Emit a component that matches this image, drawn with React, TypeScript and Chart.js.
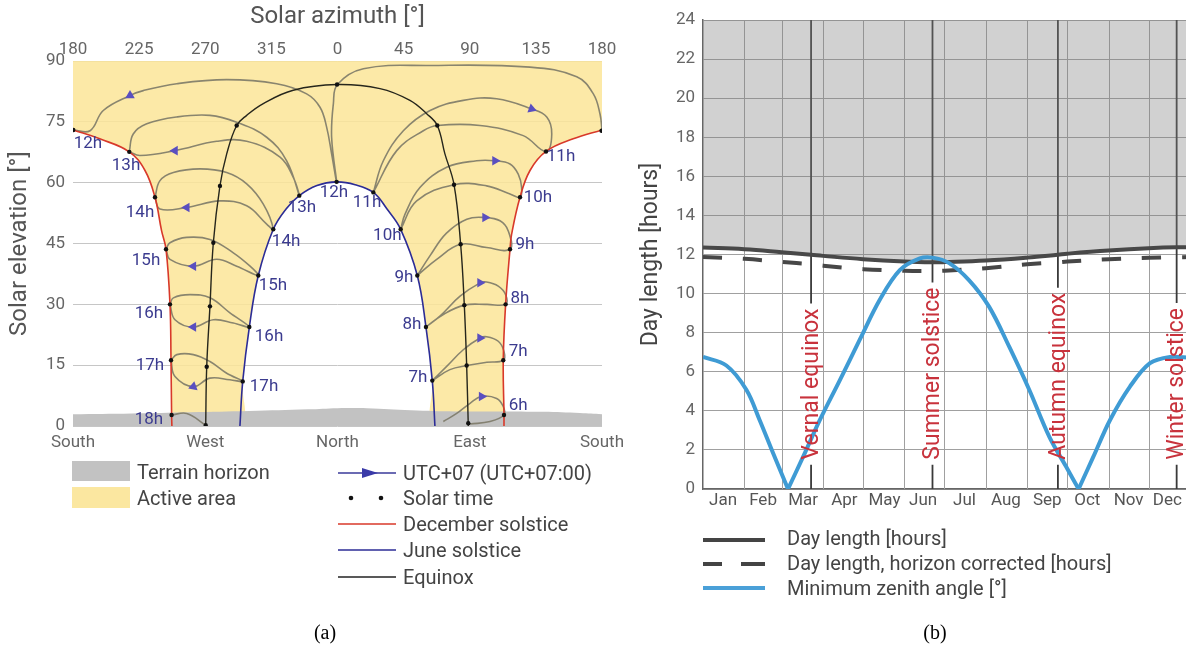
import React, { useEffect, useRef } from "react";
import { Chart, registerables } from "chart.js";

Chart.register(...registerables);
Chart.defaults.font.family = "Roboto";

type P = [number, number];

/* ================= Panel (a): sun path =================
   x value = azimuth measured from South: 0 = 180°, 90 = 270° (West),
   180 = 0° (North), 270 = 90° (East), 360 = 180° (South) */
const compassNames = ["South", "West", "North", "East", "South"];

const terrainHorizon: P[] = [[0, 2.9], [40, 3.1], [80, 3.4], [120, 3.7], [160, 4.1], [180, 4.4], [200, 4.4], [230, 3.9], [260, 3.6], [290, 3.6], [320, 3.5], [345, 3.2], [360, 2.9]];

const decemberWest: P[] = [[0, 73], [18.2, 70.8], [38.3, 67.6], [49, 63], [55.8, 56.4], [60.3, 48.1], [63.3, 43.6], [66, 30], [66.7, 16.2], [67.1, 2.7], [67.3, 0]];
const decemberEast: P[] = [[293.3, 0], [293.3, 2.7], [292.8, 16.2], [294.4, 30], [297.4, 43.6], [298.5, 47.3], [304.2, 56.4], [311, 63], [321.9, 67.7], [340.4, 70.8], [360, 73]];
const juneSolstice: P[] = [[113.6, 0], [115.5, 11], [120, 24.4], [126.1, 37.1], [136.3, 48.5], [145, 53.5], [154, 56.8], [166, 59.3], [179.4, 60.2], [192, 59.5], [204.4, 57.6], [213.7, 53.5], [223, 48.5], [234.3, 37.1], [240.2, 24.4], [244.5, 11.2], [246.3, 0]];
const equinoxPath: P[] = [[90.3, 0], [91, 14.6], [93.2, 29.5], [95.5, 45.2], [100, 59.2], [104.6, 67.1], [111.4, 74.1], [118.2, 76.6], [129.5, 79.5], [149.9, 82.8], [179.7, 84.2], [208.9, 83.2], [229.3, 80.3], [240.7, 77], [247.9, 74.1], [253.1, 67.1], [259.3, 59.5], [263.8, 44.8], [266.3, 29.8], [267.9, 14.9], [269, 0]];

const analemma6h: P[] = [[252, 1.1], [261.1, 3.1], [270.2, 5.6], [278.1, 7.3], [288.3, 6.8], [292.8, 4.8], [293.3, 2.7], [283.8, 1.1], [270.2, 0.5]];
const analemma7h: P[] = [[244.5, 11.2], [256.5, 13.9], [267.9, 14.9], [281.5, 15.7], [292.8, 16.2], [293.3, 18.4], [289.4, 20.9], [281.5, 22.0], [277.0, 21.7], [265.6, 18.8], [254.3, 14.7], [244.5, 11.2]];
const analemma8h: P[] = [[240.2, 24.4], [252.0, 27.5], [266.3, 29.8], [281.5, 30.0], [294.4, 30.0], [294.4, 32.4], [289.4, 34.5], [281.5, 35.5], [277.0, 35.3], [263.4, 32.0], [249.7, 27.1], [240.2, 24.4]];
const analemma9h: P[] = [[234.3, 37.1], [247.5, 41.1], [263.8, 44.8], [281.5, 44.0], [297.4, 43.6], [296.2, 48.1], [290.6, 50.6], [280.4, 51.4], [268, 51], [254, 47.5], [243, 42], [234.3, 37.1]];
const analemma10h: P[] = [[223.0, 48.5], [233.9, 55.5], [259.3, 59.5], [281.5, 59.2], [297.4, 57.2], [304.2, 56.4], [305.3, 58.8], [303.0, 62.1], [297.4, 64.6], [287.2, 65.4], [274.7, 65.4], [254.3, 63.8], [236.1, 58.8], [225.9, 52.2], [223.0, 48.5]];
const analemma11h: P[] = [[204.4, 57.6], [220.3, 67.9], [238.4, 72.8], [247.9, 74.1], [277.0, 74.1], [306.4, 71.6], [321.9, 67.7], [325.8, 72.0], [322.4, 76.2], [312.1, 78.2], [288.3, 80.7], [265.6, 80.3], [243.0, 77.8], [224.8, 72.8], [211.2, 65.4], [204.4, 57.6]];
const analemma12h: P[] = [[0, 73], [11.6, 72.8], [20.6, 77.8], [38.8, 81.5], [47.8, 82.7], [70.6, 84.4], [104.6, 85.4], [138.6, 84.4], [159.0, 81.9], [168.1, 78.6], [172.6, 73.7], [176.0, 67.1], [179.4, 60.2], [176, 71.2], [177.2, 79.5], [179.9, 84.2], [197.6, 88.1], [243, 88.9], [311, 88.5], [342.8, 86.1], [354.1, 81.9], [358.6, 77.0], [360, 73]];
const analemma13h: P[] = [[38.3, 67.6], [41.0, 72.0], [50.2, 74.5], [70.6, 76.2], [93.2, 76.6], [111.4, 74.9], [131.8, 71.2], [145.4, 65.4], [154, 56.8], [149.9, 61.3], [140.9, 66.3], [118.2, 70.2], [97.8, 70.2], [69.4, 67.9], [45.6, 66.7], [38.3, 67.6]];
const analemma14h: P[] = [[55.8, 56.4], [59.2, 60.5], [68.3, 62.5], [86.4, 63.4], [104.6, 62.5], [118.2, 59.7], [129.5, 54.7], [136.3, 48.5], [131.8, 49.8], [118.2, 54.3], [100, 55.5], [77.4, 53.9], [59.2, 53.5], [55.8, 56.4]];
const analemma15h: P[] = [[63.3, 43.6], [66, 45.2], [77.4, 46.5], [93.2, 46.0], [109.1, 42.7], [120.5, 39.4], [126.1, 37.1], [111.4, 39.4], [97.8, 41.1], [81.9, 39.4], [66, 41.1], [63.3, 43.6]];
const analemma16h: P[] = [[66, 30], [68.3, 31.6], [79.6, 32.4], [93.2, 31.6], [106.8, 27.9], [120, 24.4], [109.1, 25.4], [95.5, 26.2], [81.9, 24.4], [69.4, 26.2], [66, 30]];
const analemma17h: P[] = [[66.7, 16.2], [70.6, 17.6], [81.9, 17.6], [93.2, 15.9], [104.6, 13.0], [115.5, 11.0], [106.8, 11.4], [93.2, 11.8], [81.9, 9.7], [69.4, 12.2], [66.7, 16.2]];
const analemma18h: P[] = [[67.1, 2.7], [77.4, 3.1], [90.3, 0.2]];

const solarTimeDots: P[] = [
  [0.2, 73], [38.3, 67.6], [55.8, 56.4], [63.3, 43.6], [66, 30], [66.7, 16.2], [67.1, 2.7],
  [359.7, 72.8], [321.9, 67.7], [304.2, 56.4], [297.4, 43.6], [294.4, 30], [292.8, 16.2], [293.3, 2.7],
  [179.4, 60.2], [154, 56.8], [136.3, 48.5], [126.1, 37.1], [120, 24.4], [115.5, 11],
  [204.4, 57.6], [223, 48.5], [234.3, 37.1], [240.2, 24.4], [244.5, 11.2],
  [179.7, 84.2], [111.4, 74.1], [100, 59.2], [95.5, 45.2], [93.2, 29.5], [91, 14.6], [90.3, 0.2],
  [247.9, 74.1], [259.3, 59.5], [263.8, 44.8], [266.3, 29.8], [267.9, 14.9], [269, 0.7],
];

const arrowMarks: P[] = [[278.1, 7.3], [277.0, 21.7], [277.0, 35.3], [280.4, 51.4], [287.2, 65.4], [312.1, 78.2], [38.8, 81.5], [69.4, 67.9], [77.4, 53.9], [81.9, 39.4], [81.9, 24.4], [81.9, 9.7]];
const arrowHeading: number[] = [90, 90, 90, 90, 90, 110, 240, 270, 270, 270, 270, 250];

const hourLabels: [string, number, number][] = [
  ["12h", 10.2, 69.6], ["13h", 36.1, 64.1], ["14h", 45.6, 52.5], ["15h", 49.7, 40.8], ["16h", 51.7, 27.7], ["17h", 52.4, 14.9], ["18h", 51.7, 1.5],
  ["11h", 332.1, 66.3], ["10h", 316.4, 56.4], ["9h", 307.6, 44.6], ["8h", 304.2, 31.4], ["7h", 303.0, 18.2], ["6h", 303.0, 5.0],
  ["12h", 177.6, 57.4], ["13h", 155.8, 53.7], ["14h", 145, 45.5], ["15h", 136.1, 34.7], ["16h", 133.4, 22.1], ["17h", 130.0, 9.7],
  ["11h", 200.1, 55], ["10h", 213.9, 46.9], ["9h", 225.2, 36.6], ["8h", 230.7, 25], ["7h", 234.8, 11.9],
];

/* ================= Panel (b): day length ================= */
const monthNames = ["Jan", "Feb", "Mar", "Apr", "May", "Jun", "Jul", "Aug", "Sep", "Oct", "Nov", "Dec"];
const monthStartDay = [31, 59, 90, 120, 151, 181, 212, 243, 273, 304, 334];
const monthMidDay = [15, 45, 75, 106, 136, 165, 196, 227, 258, 288, 319, 348];

const sampleDay = [0, 31, 59, 81, 90, 120, 151, 172, 181, 212, 243, 266, 273, 304, 334, 355, 365];
const dayLengthHours = [12.36, 12.27, 12.12, 11.99, 11.93, 11.76, 11.64, 11.6, 11.61, 11.69, 11.84, 11.99, 12.04, 12.2, 12.32, 12.37, 12.36];
const dayLengthHorizonHours = [11.87, 11.78, 11.62, 11.5, 11.43, 11.25, 11.17, 11.16, 11.17, 11.3, 11.5, 11.6, 11.64, 11.76, 11.83, 11.86, 11.87];

const zenithDay = [0, 17.5, 32.5, 42.5, 52.5, 63.7, 75, 87.5, 102.5, 117.5, 132.5, 147.5, 162.5, 172, 184.5, 199.5, 214.5, 229.5, 244.5, 259.5, 272, 281.5, 292.5, 305, 320, 335, 350, 365];
const zenithDeg = [16.9, 15.8, 12.7, 8.8, 4.6, 0, 4.1, 8.8, 13.9, 19.1, 24.2, 28.0, 29.5, 29.6, 28.9, 26.7, 23.3, 18.2, 12.7, 6.7, 2.9, 0, 4.1, 8.8, 13.1, 16.1, 16.9, 16.8];

const seasonDay = [81, 172, 266, 355];
const seasonLabel = ["Vernal equinox", "Summer solstice", "Autumn equinox", "Winter solstice"];
const seasonLabelStartHour = 1.5;

/* ================= helpers ================= */
const xy = (pts: P[]) => pts.map(([x, y]) => ({ x, y }));

const hourLabelPlugin = {
  id: "hourLabels",
  afterDatasetsDraw(chart: any) {
    const { ctx, scales } = chart;
    ctx.save();
    ctx.font = "17px Roboto";
    ctx.fillStyle = "#3b3b8f";
    ctx.textAlign = "center";
    ctx.textBaseline = "middle";
    hourLabels.forEach(([t, v, e]) => ctx.fillText(t, scales.x.getPixelForValue(v), scales.y.getPixelForValue(e)));
    ctx.restore();
  },
};

const SEASON_FONT = "23px Roboto";
const calendarPlugin = {
  id: "calendar",
  beforeDatasetsDraw(chart: any) {
    const { ctx, chartArea: a, scales } = chart;
    ctx.save();
    ctx.strokeStyle = "#a0a0a0";
    ctx.lineWidth = 1;
    monthStartDay.forEach((d) => {
      const x = Math.round(scales.x.getPixelForValue(d)) + 0.5;
      ctx.beginPath();
      ctx.moveTo(x, a.top);
      ctx.lineTo(x, a.bottom);
      ctx.stroke();
    });
    ctx.font = SEASON_FONT;
    ctx.strokeStyle = "#3a3a3a";
    ctx.lineWidth = 1.8;
    seasonDay.forEach((d, i) => {
      const x = scales.x.getPixelForValue(d);
      const y0 = scales.y.getPixelForValue(seasonLabelStartHour);
      const w = ctx.measureText(seasonLabel[i]).width;
      ctx.beginPath();
      ctx.moveTo(x, a.top);
      ctx.lineTo(x, y0 - w - 5);
      ctx.moveTo(x, y0 + 5);
      ctx.lineTo(x, a.bottom);
      ctx.stroke();
    });
    ctx.restore();
  },
  afterDatasetsDraw(chart: any) {
    const { ctx, scales } = chart;
    ctx.save();
    ctx.font = SEASON_FONT;
    ctx.fillStyle = "#c8323c";
    ctx.textAlign = "left";
    ctx.textBaseline = "middle";
    seasonDay.forEach((d, i) => {
      const x = scales.x.getPixelForValue(d);
      const y0 = scales.y.getPixelForValue(seasonLabelStartHour);
      ctx.save();
      ctx.translate(x, y0);
      ctx.rotate(-Math.PI / 2);
      ctx.fillText(seasonLabel[i], 0, 1);
      ctx.restore();
    });
    ctx.restore();
  },
};

function Txt(props: { x: number; y: number; size?: number; color?: string; family?: string; center?: boolean; children: any }) {
  const size = props.size ?? 20;
  return (
    <div
      style={{
        position: "absolute",
        left: props.x,
        top: props.y - size * 0.6,
        fontSize: size,
        lineHeight: `${size * 1.2}px`,
        color: props.color ?? "#444",
        fontFamily: props.family ?? "Roboto",
        whiteSpace: "nowrap",
        transform: props.center ? "translateX(-50%)" : undefined,
      }}
    >
      {props.children}
    </div>
  );
}

export default function App() {
  const leftRef = useRef<HTMLCanvasElement>(null);
  const rightRef = useRef<HTMLCanvasElement>(null);

  useEffect(() => {
    const analemmas = [analemma6h, analemma7h, analemma8h, analemma9h, analemma10h, analemma11h, analemma12h, analemma13h, analemma14h, analemma15h, analemma16h, analemma17h, analemma18h];
    const line = (pts: P[], color: string, width: number, order: number) => ({
      data: xy(pts), borderColor: color, borderWidth: width, pointRadius: 0, tension: 0.4, fill: false, order,
    });
    const left = new Chart(leftRef.current!, {
      type: "line",
      data: {
        datasets: [
          { data: xy([...decemberWest, ...juneSolstice, ...decemberEast]), borderWidth: 0, borderColor: "rgba(0,0,0,0)", backgroundColor: "rgba(252,229,152,0.86)", fill: "end", pointRadius: 0, tension: 0.4, order: 10 },
          { data: xy(terrainHorizon), borderWidth: 0, borderColor: "rgba(0,0,0,0)", backgroundColor: "#c2c2c2", fill: "origin", pointRadius: 0, tension: 0.4, order: 9 },
          ...analemmas.map((a) => line(a, "rgba(125,122,104,0.9)", 1.6, 8)),
          line(equinoxPath, "#26261c", 1.4, 7),
          line(decemberWest, "#d8392a", 1.6, 6),
          line(decemberEast, "#d8392a", 1.6, 6),
          line(juneSolstice, "#2c2c96", 1.6, 6),
          { data: xy(solarTimeDots), showLine: false, pointRadius: 2.2, pointBackgroundColor: "#111", pointBorderWidth: 0, order: 5 },
          { data: xy(arrowMarks), showLine: false, pointStyle: "triangle", pointRadius: 5.5, pointRotation: arrowHeading, pointBackgroundColor: "#5a4fc0", pointBorderWidth: 0, order: 4 },
        ] as any,
      },
      options: {
        animation: false,
        responsive: false,
        layout: { padding: { left: 0, right: 38, top: 0, bottom: 0 } },
        plugins: { legend: { display: false }, tooltip: { enabled: false } },
        scales: {
          x: {
            type: "linear", position: "bottom", min: 0, max: 360,
            ticks: { stepSize: 90, autoSkip: false, maxRotation: 0, padding: 7, color: "#666", font: { size: 17 }, callback: (_v: any, i: number) => compassNames[i] },
            grid: { display: false, drawTicks: false }, border: { display: false },
            afterFit: (s: any) => { s.height = 34; },
          },
          xTop: {
            type: "linear", position: "top", min: 0, max: 360,
            ticks: { stepSize: 45, autoSkip: false, maxRotation: 0, padding: 1, color: "#666", font: { size: 17 }, callback: (v: any) => String((Number(v) + 180) % 360) },
            grid: { display: false, drawTicks: false }, border: { display: false },
            title: { display: true, text: "Solar azimuth [°]", color: "#555", font: { size: 24 }, padding: { top: 3, bottom: 0 } },
            afterFit: (s: any) => { s.height = 61; },
          },
          y: {
            min: 0, max: 90,
            ticks: { stepSize: 15, padding: 8, color: "#666", font: { size: 17 } },
            grid: { color: "#c6c6c6", drawTicks: false }, border: { display: false },
            title: { display: true, text: "Solar elevation [°]", color: "#555", font: { size: 24 }, padding: { top: 6, bottom: 0 } },
            afterFit: (s: any) => { s.width = 73; },
          },
        } as any,
      },
      plugins: [hourLabelPlugin],
    });

    const zenithSegments: { x: number; y: number }[][] = [];
    let cur: { x: number; y: number }[] = [];
    zenithDay.forEach((d, i) => {
      const p = { x: d, y: zenithDeg[i] };
      cur.push(p);
      if (zenithDeg[i] === 0 && i > 0 && i < zenithDay.length - 1) {
        zenithSegments.push(cur);
        cur = [p];
      }
    });
    zenithSegments.push(cur);

    const right = new Chart(rightRef.current!, {
      type: "line",
      data: {
        datasets: [
          { data: sampleDay.map((d, i) => ({ x: d, y: dayLengthHours[i] })), borderColor: "#484848", borderWidth: 4, pointRadius: 0, tension: 0.4, fill: "end", backgroundColor: "rgba(128,128,128,0.36)", order: 3 },
          { data: sampleDay.map((d, i) => ({ x: d, y: dayLengthHorizonHours[i] })), borderColor: "#474747", borderWidth: 4, borderDash: [19, 21], pointRadius: 0, tension: 0.4, fill: false, order: 2 },
          ...zenithSegments.map((seg) => ({ data: seg, yAxisID: "y2", borderColor: "#3f9bd4", borderWidth: 4, pointRadius: 0, tension: 0.35, fill: false, order: 1 })),
        ] as any,
      },
      options: {
        animation: false,
        responsive: false,
        layout: { padding: { left: 0, right: 10, top: 20, bottom: 0 } },
        plugins: { legend: { display: false }, tooltip: { enabled: false } },
        scales: {
          x: {
            type: "linear", min: 0, max: 365,
            afterBuildTicks: (s: any) => { s.ticks = monthMidDay.map((v) => ({ value: v })); },
            ticks: { autoSkip: false, maxRotation: 0, padding: 2, color: "#555", font: { size: 17 }, callback: (_v: any, i: number) => monthNames[i] },
            grid: { display: false, drawTicks: false }, border: { display: true, color: "#666", width: 1.5 },
            afterFit: (s: any) => { s.height = 31; },
          },
          y: {
            min: 0, max: 24,
            ticks: { stepSize: 2, padding: 8, color: "#666", font: { size: 17 } },
            grid: { color: "#a0a0a0", drawTicks: false }, border: { display: true, color: "#666", width: 1.5 },
            title: { display: true, text: "Day length [hours]", color: "#444", font: { size: 23 }, padding: { top: 7, bottom: 0 } },
            afterFit: (s: any) => { s.width = 73; },
          },
          y2: { display: false, min: 0, max: 60 },
        } as any,
      },
      plugins: [calendarPlugin],
    });

    return () => {
      left.destroy();
      right.destroy();
    };
  }, []);

  return (
    <div style={{ position: "fixed", left: 0, top: 0, width: 1186, height: 649, background: "#fff", overflow: "hidden" }}>
      <canvas ref={leftRef} width={640} height={460} style={{ position: "absolute", left: 0, top: 0 }} />
      <canvas ref={rightRef} width={570} height={520} style={{ position: "absolute", left: 630, top: 0 }} />

      <svg width={1186} height={649} style={{ position: "absolute", left: 0, top: 0, pointerEvents: "none" }}>
        <rect x={72} y={461} width={58} height={20} fill="#c2c2c2" />
        <rect x={72} y={487} width={58} height={21} fill="#fbe7a0" />
        <line x1={338} y1={473} x2={396} y2={473} stroke="#3a3a9a" strokeWidth={1.5} />
        <polygon points="362,468 378,473 362,478" fill="#3a3aa8" />
        <circle cx={351} cy={498} r={2.3} fill="#111" />
        <circle cx={381} cy={498} r={2.3} fill="#111" />
        <line x1={338} y1={524} x2={396} y2={524} stroke="#d8392a" strokeWidth={1.5} />
        <line x1={338} y1={550} x2={396} y2={550} stroke="#2c2c96" strokeWidth={1.5} />
        <line x1={338} y1={577} x2={396} y2={577} stroke="#222" strokeWidth={1.5} />

        <line x1={703} y1={540} x2={765} y2={540} stroke="#444" strokeWidth={4} />
        <line x1={703} y1={564} x2={722} y2={564} stroke="#444" strokeWidth={4} />
        <line x1={741} y1={564} x2={765} y2={564} stroke="#444" strokeWidth={4} />
        <line x1={703} y1={588} x2={765} y2={588} stroke="#4aa0d8" strokeWidth={4} />
      </svg>

      <Txt x={137} y={472}>Terrain horizon</Txt>
      <Txt x={137} y={498}>Active area</Txt>
      <Txt x={403} y={473}>UTC+07 (UTC+07:00)</Txt>
      <Txt x={403} y={498}>Solar time</Txt>
      <Txt x={403} y={524}>December solstice</Txt>
      <Txt x={403} y={550}>June solstice</Txt>
      <Txt x={403} y={577}>Equinox</Txt>

      <Txt x={787} y={538}>Day length [hours]</Txt>
      <Txt x={787} y={563}>Day length, horizon corrected [hours]</Txt>
      <Txt x={787} y={588}>Minimum zenith angle [°]</Txt>

      <Txt x={325} y={632} size={20} color="#000" family="'Liberation Serif', 'Times New Roman', serif" center>(a)</Txt>
      <Txt x={935} y={632} size={20} color="#000" family="'Liberation Serif', 'Times New Roman', serif" center>(b)</Txt>
    </div>
  );
}
